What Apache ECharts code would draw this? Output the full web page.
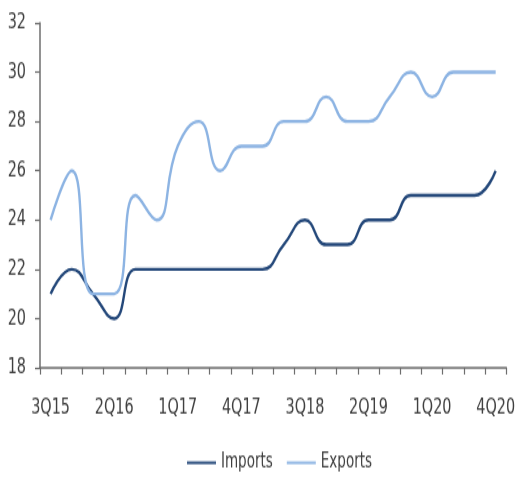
<!DOCTYPE html>
<html>
<head>
<meta charset="utf-8">
<title>Imports and Exports</title>
<script src="https://cdn.jsdelivr.net/npm/echarts@6/dist/echarts.min.js"></script>
<style>
  html, body { margin: 0; padding: 0; background: #ffffff; width: 518px; height: 485px; }
  #chart {
    width: 518px;
    height: 360px;
    transform: scaleY(1.347222);
    transform-origin: 0 0;
  }
</style>
</head>
<body>
<div id="chart"></div>
<script>
// Quarterly series
const quarters = ['3Q15','4Q15','1Q16','2Q16','3Q16','4Q16','1Q17','2Q17','3Q17','4Q17','1Q18',
                  '2Q18','3Q18','4Q18','1Q19','2Q19','3Q19','4Q19','1Q20','2Q20','3Q20','4Q20'];
const imports = [21,22,21,20,22,22,22,22,22,22,22,23,24,23,23,24,24,25,25,25,25,26];
const exports = [24,26,21,21,25,24,27,28,26,27,27,28,28,29,28,28,29,30,29,30,30,30];

const yMin = 18, yMax = 32, yStep = 2;

const font = "'Liberation Sans Narrow', 'Arial Narrow', 'DejaVu Sans Condensed', sans-serif";
const axisColor = '#6e6e6e';
const textColor = '#404040';

const chart = echarts.init(document.getElementById('chart'), null, { renderer: 'canvas' });

chart.setOption({
  backgroundColor: '#ffffff',
  animation: false,
  grid: { left: 40, right: 8, top: 17, bottom: 87, containLabel: false },
  legend: {
    bottom: 4,
    left: 182,
    itemWidth: 29,
    itemHeight: 10,
    itemGap: 14,
    icon: 'path://M0,4 L29,4 L29,6 L0,6 Z',
    textStyle: { fontFamily: font, fontSize: 15, color: textColor },
    data: ['Imports', 'Exports']
  },
  xAxis: {
    type: 'category',
    data: quarters,
    boundaryGap: true,
    axisLine: { show: true, lineStyle: { color: axisColor, width: 1.5 } },
    axisTick: { show: true, interval: 0, length: 5, lineStyle: { color: axisColor, width: 1.2 } },
    axisLabel: {
      interval: 2,
      margin: 22,
      fontFamily: font,
      fontSize: 16,
      color: textColor,
      hideOverlap: false
    },
    splitLine: { show: false }
  },
  yAxis: {
    type: 'value',
    min: yMin,
    max: yMax,
    interval: yStep,
    axisLine: { show: true, lineStyle: { color: axisColor, width: 1.5 } },
    axisTick: { show: true, length: 5, lineStyle: { color: axisColor, width: 1.2 } },
    axisLabel: { margin: 14, fontFamily: font, fontSize: 16, color: textColor },
    splitLine: { show: false }
  },
  series: [
    {
      name: 'Imports',
      type: 'line',
      data: imports,
      smooth: 0.5,
      symbol: 'none',
      itemStyle: { color: '#24487a' },
      lineStyle: { color: '#24487a', width: 2.4 }
    },
    {
      name: 'Exports',
      type: 'line',
      data: exports,
      smooth: 0.5,
      symbol: 'none',
      itemStyle: { color: '#8db4e3' },
      lineStyle: { color: '#8db4e3', width: 2.4 }
    }
  ]
});
</script>
</body>
</html>
